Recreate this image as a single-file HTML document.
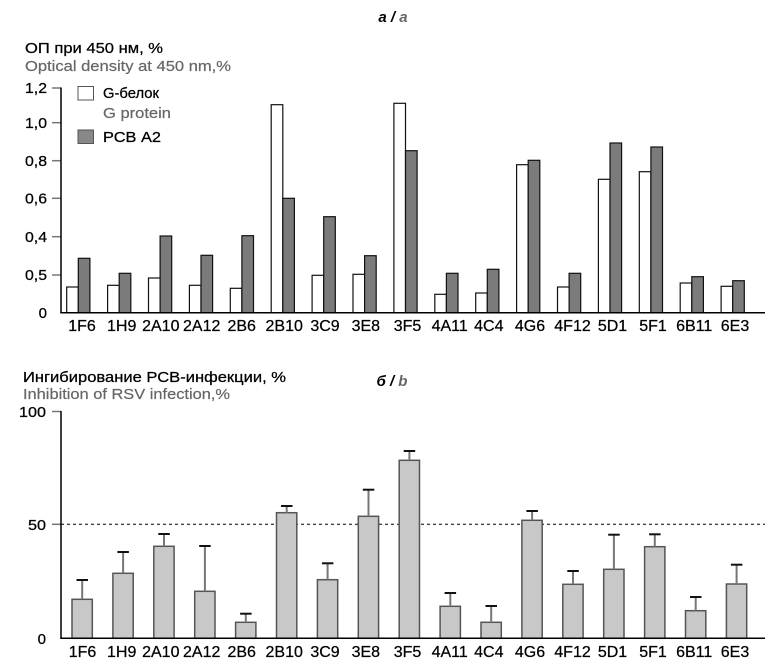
<!DOCTYPE html>
<html><head><meta charset="utf-8"><style>
html,body{margin:0;padding:0;background:#fff;}
svg{display:block;}
text{font-family:"Liberation Sans",Arial,sans-serif;}
</style></head><body>
<svg width="778" height="666" viewBox="0 0 778 666" xmlns="http://www.w3.org/2000/svg">
<rect width="778" height="666" fill="#fff"/>
<!-- Titles -->
<text x="393" y="22" text-anchor="middle" font-size="15" font-weight="bold" font-style="italic"><tspan fill="#000">а /</tspan><tspan fill="#666"> a</tspan></text>
<text x="392" y="386" text-anchor="middle" font-size="15" font-weight="bold" font-style="italic"><tspan fill="#000">б /</tspan><tspan fill="#666"> b</tspan></text>

<g stroke="#000" stroke-width="0.25">
<!-- Top axis titles -->
<text x="25" y="53" font-size="14.5" fill="#000" textLength="138" lengthAdjust="spacingAndGlyphs">ОП при 450 нм, %</text>
<text x="103" y="98" font-size="14.5" fill="#000" textLength="56" lengthAdjust="spacingAndGlyphs">G-белок</text>
<text x="103" y="142" font-size="14.5" fill="#000" textLength="58" lengthAdjust="spacingAndGlyphs">РСВ А2</text>
<text x="23" y="382" font-size="14.5" fill="#000" textLength="263" lengthAdjust="spacingAndGlyphs">Ингибирование РСВ-инфекции, %</text>
</g>
<g stroke="#666" stroke-width="0.2">
<text x="25" y="71" font-size="14.5" fill="#666" textLength="206" lengthAdjust="spacingAndGlyphs">Optical density at 450 nm,%</text>
<text x="103" y="118" font-size="14.5" fill="#666" textLength="68" lengthAdjust="spacingAndGlyphs">G protein</text>
<text x="23" y="399" font-size="14.5" fill="#666" textLength="207" lengthAdjust="spacingAndGlyphs">Inhibition of RSV infection,%</text>
</g>

<!-- Legend -->
<rect x="78" y="86.5" width="15.5" height="13.5" fill="#fff" stroke="#555" stroke-width="1"/>
<rect x="78" y="130" width="15.5" height="13.5" fill="#888" stroke="#555" stroke-width="1"/>

<!-- Top axes -->
<g stroke="#777" stroke-width="1.5">
<line x1="52" y1="88" x2="61" y2="88"/>
<line x1="52" y1="122.7" x2="61" y2="122.7"/>
<line x1="52" y1="160.7" x2="61" y2="160.7"/>
<line x1="52" y1="198.3" x2="61" y2="198.3"/>
<line x1="52" y1="236.7" x2="61" y2="236.7"/>
<line x1="52" y1="275" x2="61" y2="275"/>
</g>
<line x1="61" y1="87.5" x2="61" y2="313" stroke="#000" stroke-width="1.5"/>
<g font-size="15" fill="#000" text-anchor="end" stroke="#000" stroke-width="0.25">
<text x="47" y="93" textLength="22" lengthAdjust="spacingAndGlyphs">1,2</text>
<text x="47" y="128" textLength="22" lengthAdjust="spacingAndGlyphs">1,0</text>
<text x="47" y="166" textLength="22" lengthAdjust="spacingAndGlyphs">0,8</text>
<text x="47" y="203.5" textLength="22" lengthAdjust="spacingAndGlyphs">0,6</text>
<text x="47" y="242" textLength="22" lengthAdjust="spacingAndGlyphs">0,4</text>
<text x="47" y="280" textLength="22" lengthAdjust="spacingAndGlyphs">0,5</text>
<text x="47" y="318">0</text>
</g>

<!-- Top bars -->
<g stroke="#111" stroke-width="1.2">
<rect x="66.7" y="287" width="11.6" height="25.7" fill="#fff"/><rect x="78.3" y="258.3" width="11.6" height="54.4" fill="#7b7b7b"/>
<rect x="107.6" y="285.3" width="11.6" height="27.4" fill="#fff"/><rect x="119.2" y="273.3" width="11.6" height="39.4" fill="#7b7b7b"/>
<rect x="148.5" y="278" width="11.6" height="34.7" fill="#fff"/><rect x="160.1" y="236" width="11.6" height="76.7" fill="#7b7b7b"/>
<rect x="189.4" y="285.3" width="11.6" height="27.4" fill="#fff"/><rect x="201" y="255.3" width="11.6" height="57.4" fill="#7b7b7b"/>
<rect x="230.3" y="288.3" width="11.6" height="24.4" fill="#fff"/><rect x="241.9" y="235.7" width="11.6" height="77" fill="#7b7b7b"/>
<rect x="271.2" y="104.7" width="11.6" height="208" fill="#fff"/><rect x="282.8" y="198.3" width="11.6" height="114.4" fill="#7b7b7b"/>
<rect x="312.1" y="275.3" width="11.6" height="37.4" fill="#fff"/><rect x="323.7" y="216.7" width="11.6" height="96" fill="#7b7b7b"/>
<rect x="353" y="274.3" width="11.6" height="38.4" fill="#fff"/><rect x="364.6" y="255.7" width="11.6" height="57" fill="#7b7b7b"/>
<rect x="393.9" y="103.3" width="11.6" height="209.4" fill="#fff"/><rect x="405.5" y="150.7" width="11.6" height="162" fill="#7b7b7b"/>
<rect x="434.8" y="294.3" width="11.6" height="18.4" fill="#fff"/><rect x="446.4" y="273.3" width="11.6" height="39.4" fill="#7b7b7b"/>
<rect x="475.7" y="293" width="11.6" height="19.7" fill="#fff"/><rect x="487.3" y="269.3" width="11.6" height="43.4" fill="#7b7b7b"/>
<rect x="516.6" y="164.7" width="11.6" height="148" fill="#fff"/><rect x="528.2" y="160.3" width="11.6" height="152.4" fill="#7b7b7b"/>
<rect x="557.5" y="287" width="11.6" height="25.7" fill="#fff"/><rect x="569.1" y="273.3" width="11.6" height="39.4" fill="#7b7b7b"/>
<rect x="598.4" y="179.3" width="11.6" height="133.4" fill="#fff"/><rect x="610" y="143" width="11.6" height="169.7" fill="#7b7b7b"/>
<rect x="639.3" y="171.7" width="11.6" height="141" fill="#fff"/><rect x="650.9" y="147" width="11.6" height="165.7" fill="#7b7b7b"/>
<rect x="680.2" y="283" width="11.6" height="29.7" fill="#fff"/><rect x="691.8" y="276.7" width="11.6" height="36" fill="#7b7b7b"/>
<rect x="721.1" y="286.3" width="11.6" height="26.4" fill="#fff"/><rect x="732.7" y="280.7" width="11.6" height="32" fill="#7b7b7b"/>
</g>
<line x1="60.3" y1="312.7" x2="765" y2="312.7" stroke="#000" stroke-width="1.5"/>

<!-- Top x labels -->
<g font-size="16" fill="#000" text-anchor="middle" stroke="#000" stroke-width="0.25">
<text x="82" y="331">1F6</text><text x="121.7" y="331">1H9</text><text x="160.8" y="331">2A10</text><text x="201.7" y="331">2A12</text>
<text x="241.7" y="331">2B6</text><text x="284.2" y="331">2B10</text><text x="325" y="331">3C9</text><text x="365.8" y="331">3E8</text>
<text x="407.5" y="331">3F5</text><text x="449.7" y="331">4A11</text><text x="488.8" y="331">4C4</text><text x="530" y="331">4G6</text>
<text x="572.5" y="331">4F12</text><text x="612.5" y="331">5D1</text><text x="653" y="331">5F1</text><text x="694.2" y="331">6B11</text>
<text x="735" y="331">6E3</text>
</g>

<!-- Bottom axes -->
<g stroke="#777" stroke-width="1.5">
<line x1="52" y1="411.5" x2="61" y2="411.5"/>
<line x1="52" y1="524.3" x2="61" y2="524.3"/>
</g>
<line x1="61" y1="411" x2="61" y2="638.5" stroke="#000" stroke-width="1.5"/>
<g font-size="15" fill="#000" text-anchor="end" stroke="#000" stroke-width="0.25">
<text x="46" y="417" textLength="27" lengthAdjust="spacingAndGlyphs">100</text>
<text x="46" y="530" textLength="18" lengthAdjust="spacingAndGlyphs">50</text>
<text x="46" y="644">0</text>
</g>
<line x1="61" y1="524.3" x2="765" y2="524.3" stroke="#000" stroke-width="1" stroke-dasharray="3,3"/>

<!-- Bottom bars -->
<g fill="#c8c8c8" stroke="#555" stroke-width="1.5">
<rect x="72" y="599.3" width="20.3" height="39"/>
<rect x="112.9" y="573.3" width="20.3" height="65"/>
<rect x="153.8" y="546.3" width="20.3" height="92"/>
<rect x="194.7" y="591.3" width="20.3" height="47"/>
<rect x="235.6" y="622.3" width="20.3" height="16"/>
<rect x="276.5" y="512.7" width="20.3" height="125.6"/>
<rect x="317.4" y="579.7" width="20.3" height="58.6"/>
<rect x="358.3" y="516.3" width="20.3" height="122"/>
<rect x="399.2" y="460.3" width="20.3" height="178"/>
<rect x="440.1" y="606.3" width="20.3" height="32"/>
<rect x="481" y="622.3" width="20.3" height="16"/>
<rect x="521.9" y="520.3" width="20.3" height="118"/>
<rect x="562.8" y="584.3" width="20.3" height="54"/>
<rect x="603.7" y="569.3" width="20.3" height="69"/>
<rect x="644.6" y="546.7" width="20.3" height="91.6"/>
<rect x="685.5" y="610.7" width="20.3" height="27.6"/>
<rect x="726.4" y="584" width="20.3" height="54.3"/>
</g>
<!-- Error bars -->
<g stroke="#777" stroke-width="2">
<line x1="82.2" y1="599.3" x2="82.2" y2="580"/>
<line x1="123.1" y1="573.3" x2="123.1" y2="552"/>
<line x1="164" y1="546.3" x2="164" y2="534"/>
<line x1="204.9" y1="591.3" x2="204.9" y2="546"/>
<line x1="245.8" y1="622.3" x2="245.8" y2="613.7"/>
<line x1="286.7" y1="512.7" x2="286.7" y2="506"/>
<line x1="327.6" y1="579.7" x2="327.6" y2="563.3"/>
<line x1="368.5" y1="516.3" x2="368.5" y2="489.7"/>
<line x1="409.4" y1="460.3" x2="409.4" y2="451"/>
<line x1="450.3" y1="606.3" x2="450.3" y2="593"/>
<line x1="491.2" y1="622.3" x2="491.2" y2="606"/>
<line x1="532.1" y1="520.3" x2="532.1" y2="511"/>
<line x1="573" y1="584.3" x2="573" y2="571"/>
<line x1="613.9" y1="569.3" x2="613.9" y2="534.7"/>
<line x1="654.8" y1="546.7" x2="654.8" y2="534.3"/>
<line x1="695.7" y1="610.7" x2="695.7" y2="597"/>
<line x1="736.6" y1="584" x2="736.6" y2="564.7"/>
</g>
<g stroke="#111" stroke-width="2">
<line x1="76.5" y1="580" x2="88" y2="580"/>
<line x1="117.4" y1="552" x2="128.9" y2="552"/>
<line x1="158.3" y1="534" x2="169.8" y2="534"/>
<line x1="199.2" y1="546" x2="210.7" y2="546"/>
<line x1="240.1" y1="613.7" x2="251.6" y2="613.7"/>
<line x1="281" y1="506" x2="292.5" y2="506"/>
<line x1="321.9" y1="563.3" x2="333.4" y2="563.3"/>
<line x1="362.8" y1="489.7" x2="374.3" y2="489.7"/>
<line x1="403.7" y1="451" x2="415.2" y2="451"/>
<line x1="444.6" y1="593" x2="456.1" y2="593"/>
<line x1="485.5" y1="606" x2="497" y2="606"/>
<line x1="526.4" y1="511" x2="537.9" y2="511"/>
<line x1="567.3" y1="571" x2="578.8" y2="571"/>
<line x1="608.2" y1="534.7" x2="619.7" y2="534.7"/>
<line x1="649.1" y1="534.3" x2="660.6" y2="534.3"/>
<line x1="690" y1="597" x2="701.5" y2="597"/>
<line x1="730.9" y1="564.7" x2="742.4" y2="564.7"/>
</g>
<line x1="60.3" y1="638.3" x2="765" y2="638.3" stroke="#000" stroke-width="1.5"/>

<!-- Bottom x labels -->
<g font-size="16" fill="#000" text-anchor="middle" stroke="#000" stroke-width="0.25">
<text x="82.5" y="657">1F6</text><text x="121.7" y="657">1H9</text><text x="160.8" y="657">2A10</text><text x="201.7" y="657">2A12</text>
<text x="241.7" y="657">2B6</text><text x="284.2" y="657">2B10</text><text x="325" y="657">3C9</text><text x="365.8" y="657">3E8</text>
<text x="407.5" y="657">3F5</text><text x="449.7" y="657">4A11</text><text x="488.8" y="657">4C4</text><text x="530" y="657">4G6</text>
<text x="572.5" y="657">4F12</text><text x="612.5" y="657">5D1</text><text x="653" y="657">5F1</text><text x="694.2" y="657">6B11</text>
<text x="735" y="657">6E3</text>
</g>
</svg>
</body></html>
